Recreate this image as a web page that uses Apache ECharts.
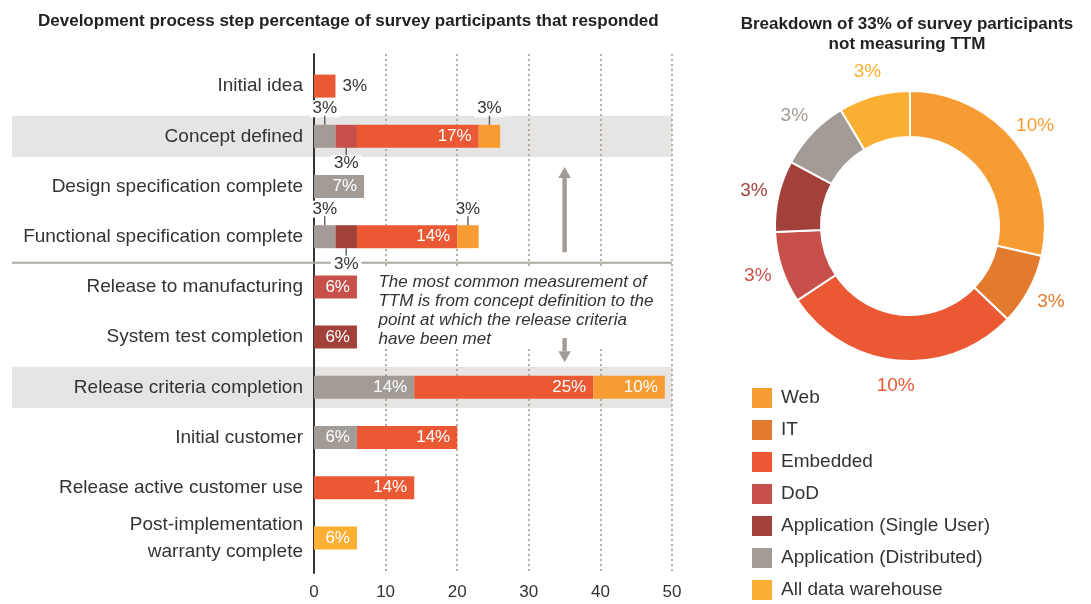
<!DOCTYPE html>
<html>
<head>
<meta charset="utf-8">
<script src="https://cdn.jsdelivr.net/npm/echarts@6/dist/echarts.min.js"></script>
<style>
  html, body { margin: 0; padding: 0; background: #ffffff; }
  #chart { width: 1091px; height: 604px; }
</style>
</head>
<body>
<div id="chart"></div>
<script>
// Development process steps (top to bottom)
const categories = [
  'Initial idea',
  'Concept defined',
  'Design specification complete',
  'Functional specification complete',
  'Release to manufacturing',
  'System test completion',
  'Release criteria completion',
  'Initial customer',
  'Release active customer use',
  'Post-implementation\nwarranty complete'
];

// Percent of respondents per step, split by project type
const distributedValues = [null, 3, 7, 3, null, null, 14, 6, null, null];
const dodValues         = [null, 3, null, null, 6, null, null, null, null, null];
const singleUserValues  = [null, null, null, 3, null, 6, null, null, null, null];
const embeddedValues    = [3, 17, null, 14, null, null, 25, 14, 14, null];
const webValues         = [null, 3, null, 3, null, null, 10, null, null, null];
const warehouseValues   = [null, null, null, null, null, null, null, null, null, 6];

const xTicks = [0, 10, 20, 30, 40, 50];

// Breakdown of respondents not measuring TTM
const pieNames = ['Web', 'IT', 'Embedded', 'DoD', 'Application (Single User)', 'Application (Distributed)', 'All data warehouse'];
const pieValues = [10, 3, 10, 3, 3, 3, 3];

const highlightedSteps = ['Concept defined', 'Release criteria completion'];

const palette = {
  'Web': '#F69C33',
  'IT': '#E27B2E',
  'Embedded': '#EB5834',
  'DoD': '#C8504A',
  'Application (Single User)': '#A1413A',
  'Application (Distributed)': '#A39C96',
  'All data warehouse': '#FBB034'
};

const FONT = '"Liberation Sans", Arial, Helvetica, sans-serif';
const TEXT = '#333333';

// small segments whose value sits outside the bar
const outsidePlacement = {
  'Embedded': { 0: 'right' },
  'Application (Distributed)': { 1: 'top', 3: 'top' },
  'DoD': { 1: 'bottom' },
  'Application (Single User)': { 3: 'bottom' },
  'Web': { 1: 'top', 3: 'top' }
};

const barStack = [
  ['Application (Distributed)', distributedValues],
  ['DoD', dodValues],
  ['Application (Single User)', singleUserValues],
  ['Embedded', embeddedValues],
  ['Web', webValues],
  ['All data warehouse', warehouseValues]
];

function outsideLabel(pos) {
  if (pos === 'right') {
    return { show: true, position: 'right', distance: 7, color: TEXT, fontSize: 17, fontFamily: FONT, formatter: '{c}%' };
  }
  const rich = {
    v: { fontSize: 17, color: TEXT, fontFamily: FONT, lineHeight: 14, backgroundColor: '#ffffff', padding: [0, 3] },
    t: { width: 1.5, height: 9, backgroundColor: '#666666', fontSize: 1, lineHeight: 9 }
  };
  if (pos === 'top') {
    return { show: true, position: 'top', distance: 0, rich: rich, formatter: p => '{v|' + p.value + '%}\n{t| }' };
  }
  return { show: true, position: 'bottom', distance: 0, rich: rich, formatter: p => '{t| }\n{v|' + p.value + '%}' };
}

const barSeries = barStack.map(([name, values]) => ({
  name: name,
  type: 'bar',
  stack: 'steps',
  xAxisIndex: 0,
  yAxisIndex: 0,
  barWidth: 23,
  itemStyle: { color: palette[name] },
  label: {
    show: true, position: 'insideRight', distance: 7, color: '#ffffff',
    fontSize: 17, fontFamily: FONT, formatter: '{c}%'
  },
  emphasis: { disabled: true },
  data: values.map((v, i) => {
    const pos = outsidePlacement[name] && outsidePlacement[name][i];
    return pos ? { value: v, label: outsideLabel(pos) } : v;
  })
}));

const pieData = pieNames.map((n, i) => ({ name: n, value: pieValues[i], itemStyle: { color: palette[n] } }));

const chart = echarts.init(document.getElementById('chart'), null, { renderer: 'canvas' });

const option = {
  animation: false,
  backgroundColor: '#ffffff',
  textStyle: { fontFamily: FONT },
  title: [
    {
      text: 'Development process step percentage of survey participants that responded',
      left: 33, top: 8,
      textStyle: { fontSize: 17, fontWeight: 'bold', color: '#222222', fontFamily: FONT }
    },
    {
      text: 'Breakdown of 33% of survey participants\nnot measuring TTM',
      left: 902, top: 9, textAlign: 'center',
      textStyle: { fontSize: 17, fontWeight: 'bold', color: '#222222', fontFamily: FONT, lineHeight: 20 }
    }
  ],
  legend: {
    orient: 'vertical',
    left: 752, top: 388, height: 216, padding: 0,
    itemWidth: 20, itemHeight: 20, itemGap: 12,
    icon: 'rect', selectedMode: false,
    itemStyle: { borderWidth: 0 },
    data: pieNames,
    textStyle: { fontSize: 19, color: TEXT, fontFamily: FONT, padding: [0, 0, 0, 4] }
  },
  grid: [
    { left: 314, right: 419, top: 61, height: 502 },
    { left: 314, right: 419, top: 54, bottom: 31 }
  ],
  xAxis: [
    { gridIndex: 0, type: 'value', min: 0, max: 50, show: false },
    {
      gridIndex: 1, type: 'value', min: xTicks[0], max: xTicks[xTicks.length - 1], interval: 10,
      axisLine: { show: false }, axisTick: { show: false },
      axisLabel: { fontSize: 17, color: TEXT, fontFamily: FONT, margin: 11 },
      splitLine: { show: true, lineStyle: { color: '#9c9893', type: [2, 3], width: 1.5 } }
    }
  ],
  yAxis: [
    {
      gridIndex: 0, type: 'category', data: categories, inverse: true,
      axisLine: { show: false }, axisTick: { show: false },
      axisLabel: { fontSize: 19, color: TEXT, fontFamily: FONT, margin: 11, lineHeight: 27 }
    },
    {
      gridIndex: 1, type: 'value', min: 0, max: 1,
      axisLine: { show: true, lineStyle: { color: '#333333', width: 2 } },
      axisTick: { show: false }, axisLabel: { show: false }, splitLine: { show: false }
    }
  ],
  series: barSeries.concat([
    {
      name: 'TTM breakdown',
      type: 'pie',
      center: [910, 226],
      radius: [89, 135],
      startAngle: 90,
      clockwise: true,
      avoidLabelOverlap: false,
      itemStyle: { borderColor: '#ffffff', borderWidth: 2 },
      label: { show: false },
      labelLine: { show: false },
      emphasis: { disabled: true },
      data: pieData
    },
    {
      name: 'TTM breakdown labels',
      type: 'pie',
      center: [910, 226],
      radius: [146, 168],
      startAngle: 90,
      clockwise: true,
      silent: true,
      avoidLabelOverlap: false,
      itemStyle: { color: 'transparent' },
      label: {
        show: true, position: 'inside', fontSize: 19, fontFamily: FONT,
        formatter: '{c}%'
      },
      labelLine: { show: false },
      emphasis: { disabled: true },
      data: pieNames.map((n, i) => ({
        name: n, value: pieValues[i],
        itemStyle: { color: 'transparent' },
        label: { color: palette[n] }
      }))
    }
  ])
};

chart.setOption(option);

// Decorations placed through the axes' own scales
const yAt = idx => {
  const y0 = chart.convertToPixel({ yAxisIndex: 0 }, categories[0]);
  const y9 = chart.convertToPixel({ yAxisIndex: 0 }, categories[9]);
  return y0 + (y9 - y0) / 9 * idx;
};
const band = yAt(1) - yAt(0);
const xAt = v => chart.convertToPixel({ xAxisIndex: 0 }, v);
const leftEdge = 12;
const rightEdge = xAt(50);

const graphics = [];

highlightedSteps.forEach(step => {
  const idx = categories.indexOf(step);
  const cy = yAt(idx);
  graphics.push({
    type: 'rect', z: -10, silent: true,
    shape: { x: leftEdge, y: cy - band * 0.41, width: rightEdge - leftEdge, height: band * 0.82 },
    style: { fill: '#E7E5E3' }
  });
});

// divider between the functional spec step and release steps
const divY = (yAt(3) + yAt(4)) / 2 + 1;
graphics.push({
  type: 'line', z: 1, silent: true,
  shape: { x1: leftEdge, y1: divY, x2: rightEdge, y2: divY },
  style: { stroke: '#ADA7A2', lineWidth: 2 }
});

// note text, on a white box that breaks the grid lines
graphics.push({
  type: 'text', z: 5, silent: true,
  x: xAt(9) - 6, y: yAt(3.71) - 4,
  style: {
    text: 'The most common measurement of\nTTM is from concept definition to the\npoint at which the release criteria\nhave been met',
    font: 'italic 17px ' + FONT,
    fill: TEXT,
    lineHeight: 19,
    backgroundColor: '#ffffff',
    padding: [4, 10, 0, 6]
  }
});

// arrows spanning the most common measurement range
const ax = xAt(35);
function arrow(tipIdx, tailIdx) {
  const tip = yAt(tipIdx), tail = yAt(tailIdx);
  const dir = tail > tip ? 1 : -1;
  const headLen = 11, headHalf = 6.3, shaftHalf = 2.2;
  const base = tip + dir * headLen;
  graphics.push({
    type: 'polygon', z: 6, silent: true,
    shape: { points: [[ax, tip], [ax - headHalf, base], [ax + headHalf, base]] },
    style: { fill: '#A39C96' }
  });
  graphics.push({
    type: 'rect', z: 6, silent: true,
    shape: { x: ax - shaftHalf, y: Math.min(base, tail), width: shaftHalf * 2, height: Math.abs(tail - base) },
    style: { fill: '#A39C96' }
  });
}
arrow(1.61, 3.31);
arrow(5.50, 5.02);

chart.setOption({ graphic: { elements: graphics } });
</script>
</body>
</html>
